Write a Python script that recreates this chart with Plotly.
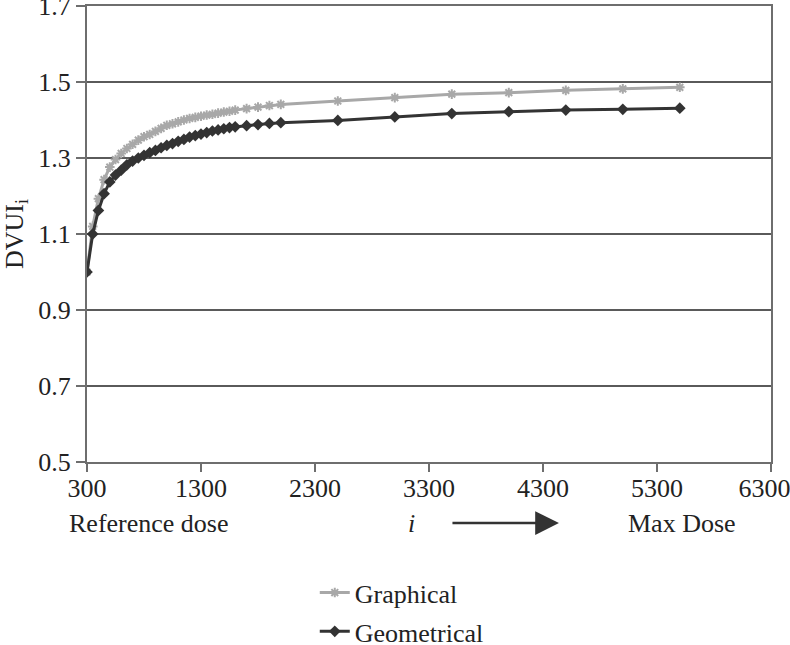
import plotly.graph_objects as go

dose = [300, 350, 400, 450, 500, 550, 600, 650, 700, 750, 800, 850, 900, 950,
        1000, 1050, 1100, 1150, 1200, 1250, 1300, 1350, 1400, 1450, 1500, 1550,
        1600, 1700, 1800, 1900, 2000, 2500, 3000, 3500, 4000, 4500, 5000, 5500]

graphical = [1.000, 1.120, 1.193, 1.243, 1.276, 1.296, 1.312, 1.325, 1.336, 1.347,
             1.356, 1.362, 1.370, 1.378, 1.386, 1.390, 1.395, 1.400, 1.404, 1.407,
             1.410, 1.413, 1.415, 1.418, 1.421, 1.423, 1.426, 1.430, 1.434, 1.438,
             1.441, 1.450, 1.459, 1.468, 1.472, 1.478, 1.482, 1.486]

geometrical = [1.000, 1.100, 1.162, 1.206, 1.237, 1.255, 1.268, 1.282, 1.292, 1.300,
               1.307, 1.314, 1.320, 1.327, 1.333, 1.338, 1.344, 1.349, 1.355, 1.359,
               1.363, 1.367, 1.371, 1.374, 1.377, 1.380, 1.382, 1.385, 1.388, 1.391,
               1.393, 1.399, 1.408, 1.417, 1.422, 1.426, 1.428, 1.431]

x_ticks = [300, 1300, 2300, 3300, 4300, 5300, 6300]
y_ticks = [0.5, 0.7, 0.9, 1.1, 1.3, 1.5, 1.7]

FONT = "Liberation Serif"
AX = "#6e6e6e"
TXT = "#222222"
FS = 26

# last x label padded so it stays inside the page edge
x_labels = [str(v) for v in x_ticks]
x_labels[-1] = x_labels[-1] + "\u00a0\u00a0"

fig = go.Figure()
fig.add_trace(go.Scatter(
    x=dose, y=graphical, name="Graphical", mode="lines+markers",
    line=dict(color="#a8a8a8", width=3),
    marker=dict(symbol="asterisk", size=8, color="#a8a8a8",
                line=dict(color="#a8a8a8", width=2)),
    legendgroup="a"))
fig.add_trace(go.Scatter(
    x=dose, y=geometrical, name="Geometrical", mode="lines+markers",
    line=dict(color="#333333", width=3),
    marker=dict(symbol="diamond", size=9, color="#333333"),
    legendgroup="b"))

fig.update_layout(
    width=790, height=645,
    margin=dict(l=87, r=19, t=6, b=183, autoexpand=False),
    paper_bgcolor="white", plot_bgcolor="white",
    font=dict(family=FONT, size=FS, color=TXT),
    showlegend=True,
    legend=dict(x=0.333, y=-0.235, xanchor="left", yanchor="top",
                orientation="v", traceorder="grouped", tracegroupgap=2,
                font=dict(family=FONT, size=FS, color=TXT),
                bgcolor="rgba(0,0,0,0)"),
    xaxis=dict(range=[300, 6300], tickvals=x_ticks, ticktext=x_labels,
               showgrid=False, zeroline=False, showline=True, linecolor=AX,
               linewidth=2, mirror=True, ticks="outside", ticklen=8,
               tickcolor=AX, tickwidth=2, automargin=False,
               ticklabeloverflow="allow", ticklabelstandoff=-6,
               tickfont=dict(family=FONT, size=FS, color=TXT)),
    yaxis=dict(range=[0.5, 1.7], tickvals=y_ticks, ticktext=[f"{v:.1f}" for v in y_ticks],
               showgrid=True, gridcolor="#5a5a5a", gridwidth=1.5,
               zeroline=False, showline=True, linecolor=AX,
               linewidth=2, mirror=True, ticks="outside", ticklen=9,
               tickcolor=AX, tickwidth=2, automargin=False,
               ticklabeloverflow="allow",
               tickfont=dict(family=FONT, size=FS, color=TXT),
               title=dict(text="DVUI<sub>i</sub>", standoff=20,
                          font=dict(family=FONT, size=FS, color=TXT))),
)

for xpos, label in [(0.0906, "Reference dose"), (0.475, "<i>i</i>"), (0.8706, "Max Dose")]:
    fig.add_annotation(x=xpos, y=-0.134, xref="paper", yref="paper", text=label,
                       xanchor="center", yanchor="middle",
                       showarrow=False, font=dict(family=FONT, size=FS, color=TXT))
fig.add_annotation(x=0.69, y=-0.134, xref="paper", yref="paper", text="",
                   showarrow=True, ax=-108, ay=0, arrowhead=2, arrowsize=1.9,
                   arrowwidth=2.5, arrowcolor="#333333")

fig.write_html("out.html", config={"displayModeBar": False},
               post_script="document.body.style.margin='0px';")
